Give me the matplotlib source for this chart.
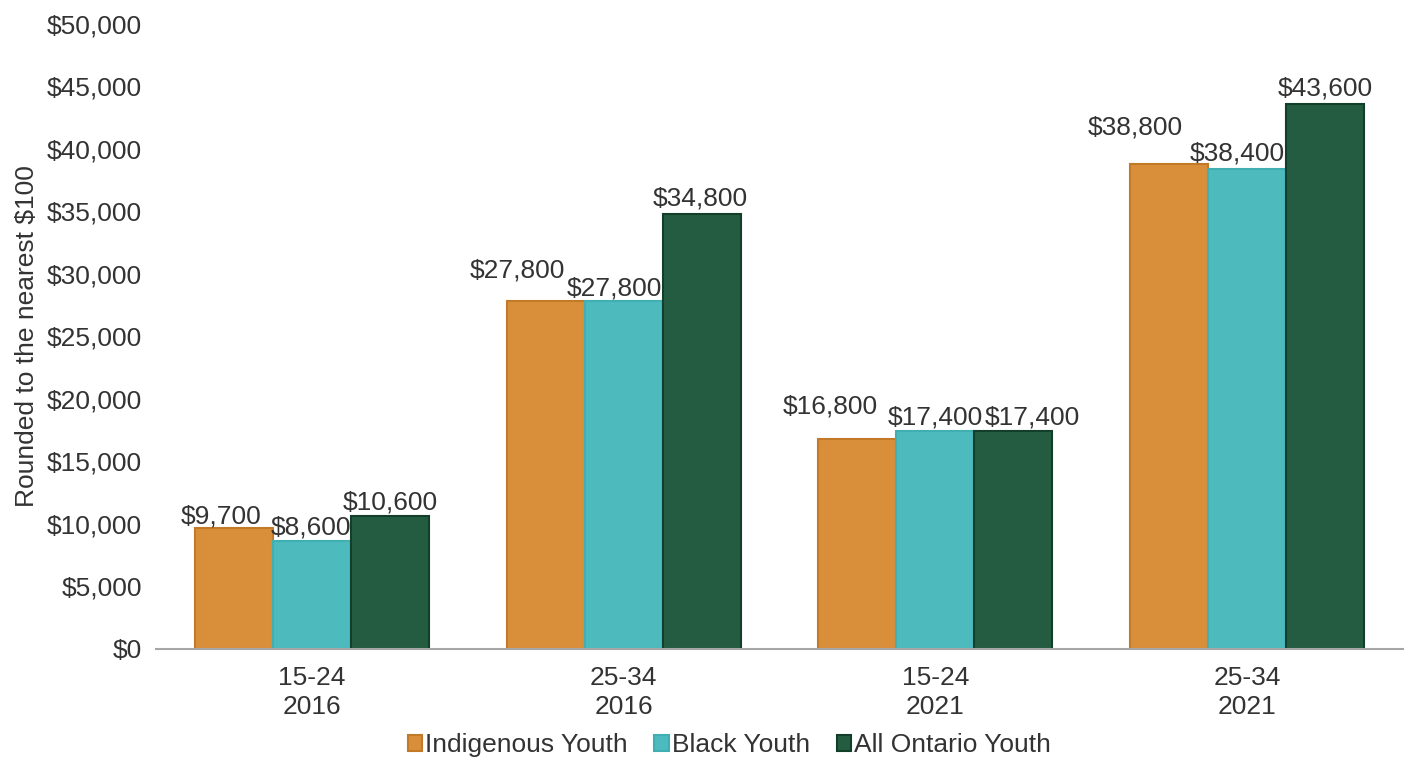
import matplotlib
matplotlib.use("Agg")
import matplotlib.pyplot as plt
import numpy as np

plt.rcParams['font.family'] = ['Liberation Sans', 'DejaVu Sans']

categories = ["15-24\n2016", "25-34\n2016", "15-24\n2021", "25-34\n2021"]
series_names = ["Indigenous Youth", "Black Youth", "All Ontario Youth"]
indigenous = [9700, 27800, 16800, 38800]
black = [8600, 27800, 17400, 38400]
all_ontario = [10600, 34800, 17400, 43600]
yticks = list(range(0, 50001, 5000))

colors = ["#D98E3A", "#4DBBBD", "#245C42"]
edges = ["#C27A28", "#3FAFB1", "#123F2A"]
# label offsets in pixels (dx, dy of text centre from bar top centre)
label_offsets = [
    [(-13, 11), (-28, 31), (-27, 32), (-34, 36)],
    [(-1, 14), (-9, 13), (0, 14), (-10, 15)],
    [(0, 14), (-1, 15), (19, 14), (0, 15)],
]

FS = 19
TC = "#333333"

fig = plt.figure(figsize=(14.08, 7.57), dpi=100)
ax = fig.add_axes([0.1108, 0.1427, 0.8856, 0.8256])

x = np.arange(len(categories))
w = 0.25
data = [indigenous, black, all_ontario]
for i, (vals, name) in enumerate(zip(data, series_names)):
    pos = x + (i - 1) * w
    ax.bar(pos, vals, width=w, color=colors[i], edgecolor=edges[i],
           linewidth=1.5, label=name)
    for j, (p, v) in enumerate(zip(pos, vals)):
        dx, dy = label_offsets[i][j]
        ax.annotate(f"${v:,.0f}", xy=(p, v), xytext=(dx, dy),
                    textcoords="offset pixels", ha="center", va="center",
                    fontsize=FS, color=TC)

ax.set_xlim(-0.5, len(categories) - 0.5)
ax.set_ylim(0, 50000)
ax.set_yticks(yticks)
ax.set_yticklabels([f"${t:,.0f}" for t in yticks], fontsize=FS, color=TC)
ax.set_xticks(x)
ax.set_xticklabels(categories, fontsize=FS, color=TC, linespacing=1.3)
ax.tick_params(axis="both", length=0)
ax.tick_params(axis="y", pad=10)
ax.tick_params(axis="x", pad=12)
for s in ["top", "right", "left"]:
    ax.spines[s].set_visible(False)
ax.spines["bottom"].set_color("#A6A6A6")
ax.spines["bottom"].set_linewidth(1.5)

ax.set_ylabel("Rounded to the nearest $100", fontsize=FS, color=TC, labelpad=6)

leg = fig.legend(loc="center", bbox_to_anchor=(0.518, 0.016), ncol=3, frameon=False,
                 fontsize=FS, handlelength=0.55, handleheight=0.55,
                 handletextpad=0.12, columnspacing=1.0)
for t in leg.get_texts():
    t.set_color(TC)

fig.savefig("out.png", dpi=100)
